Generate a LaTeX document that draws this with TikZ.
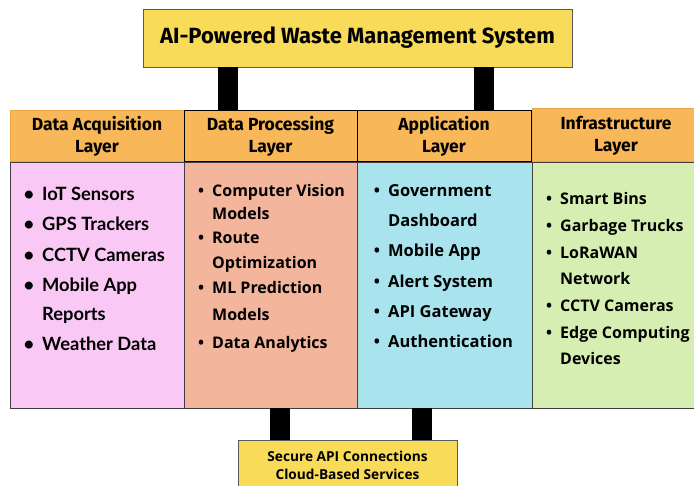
\documentclass[tikz,border=0pt]{standalone}
\usepackage{fontspec}
\setmainfont{Open Sans}
\newfontfamily\hdrfont{Fira Sans}
\newfontfamily\lfont{Lato}
\definecolor{ttlc}{HTML}{F9DB5A}
\definecolor{hdrc}{HTML}{F8B758}
\definecolor{hdredge}{HTML}{E9A446}
\definecolor{pinkc}{HTML}{F9C8F5}
\definecolor{salc}{HTML}{F3B59B}
\definecolor{bluec}{HTML}{A9E4EE}
\definecolor{greenc}{HTML}{D7EEB2}
\newcommand{\bul}{\makebox[0pt][r]{\textbullet\hspace{8pt}}}
\begin{document}
\begin{tikzpicture}[x=1pt,y=-1pt,
  ttlbox/.style={draw=black!65, line width=0.8pt, fill=ttlc, minimum width=429pt, minimum height=58pt, inner sep=0pt, font=\hdrfont\bfseries\fontsize{22}{26}\selectfont},
  hdr/.style={fill=hdrc, minimum height=51pt, inner sep=0pt, align=center, line width=1pt, font=\hdrfont\bfseries\fontsize{17.5}{22}\selectfont},
  body/.style={draw=black!75, line width=0.8pt, minimum height=246pt, inner sep=0pt},
  bar/.style={line width=20pt, draw=black},
  itm/.style={anchor=base west, inner sep=0pt, font=\bfseries\fontsize{16}{18}\selectfont},
  itmC/.style={anchor=base west, inner sep=0pt, font=\bfseries\fontsize{16.5}{18}\selectfont},
  itmA/.style={anchor=base west, inner sep=0pt, font=\lfont\bfseries\fontsize{18.3}{18}\selectfont},
  botbox/.style={draw=black!65, line width=0.8pt, fill=ttlc, minimum width=219pt, minimum height=50pt, inner sep=0pt, align=center, font=\bfseries\fontsize{13.7}{18}\selectfont}]
\useasboundingbox (0,0) rectangle (694,486);
\fill[white] (0,0) rectangle (694,486);

% bodies
\node[body, fill=pinkc, minimum width=174pt] (b1) at (97,285) {};
\node[body, fill=salc, minimum width=173pt] (b2) at (270.5,285) {};
\node[body, fill=bluec, minimum width=175pt] (b3) at (444.5,285) {};
\node[body, fill=greenc, minimum width=168pt] (b4) at (616,285) {};

% headers
\node[hdr, draw=hdredge, minimum width=174pt] (h1) at (97,136.5) {Data Acquisition\\Layer};
\node[hdr, draw=hdredge, minimum width=168pt, minimum height=53pt] (h4) at (616,135.5) {Infrastructure\\Layer};
\node[hdr, draw=black, minimum width=173pt] (h2) at (270.5,136.5) {Data Processing\\Layer};
\node[hdr, draw=black, minimum width=174pt] (h3) at (444,136.5) {Application\\Layer};

% title
\node[ttlbox] (ttl) at (357.5,38) {AI-Powered Waste Management System};

% bottom box
\node[botbox] (bot) at (347.5,465) {Secure API Connections\\Cloud-Based Services};

% connectors
\draw[bar] ([xshift=85pt]ttl.south west) -- ([xshift=85pt]ttl.south west |- h2.north);
\draw[bar] ([xshift=341pt]ttl.south west) -- ([xshift=341pt]ttl.south west |- h3.north);
\draw[bar] ([xshift=96pt]b2.south west) -- ([xshift=96pt]b2.south west |- bot.north);
\draw[bar] ([xshift=65pt]b3.south west) -- ([xshift=65pt]b3.south west |- bot.north);

% column 1 items
\foreach \t/\y [count=\i] in {\bul IoT Sensors/195, \bul GPS Trackers/225, \bul CCTV Cameras/256, \bul Mobile App/286, Reports/315, \bul Weather Data/345}
  \node[itmA] (a\i) at (42,\y+6) {\t};
% column 2 items
\foreach \t/\y [count=\i] in {\bul Computer Vision/191, Models/214, \bul Route/238, Optimization/263, \bul ML Prediction/288, Models/315, \bul Data Analytics/343}
  \node[itm] (p\i) at (212,\y+6) {\t};
% column 3 items
\foreach \t/\y [count=\i] in {\bul Government/191, Dashboard/221, \bul Mobile App/251, \bul Alert System/282, \bul API Gateway/312, \bul Authentication/342}
  \node[itmC] (c\i) at (388,\y+6) {\t};
% column 4 items
\foreach \t/\y [count=\i] in {\bul Smart Bins/199, \bul Garbage Trucks/226, \bul LoRaWAN/253, Network/279, \bul CCTV Cameras/306, \bul Edge Computing/333, Devices/359}
  \node[itm] (d\i) at (560,\y+6) {\t};
\end{tikzpicture}
\end{document}
